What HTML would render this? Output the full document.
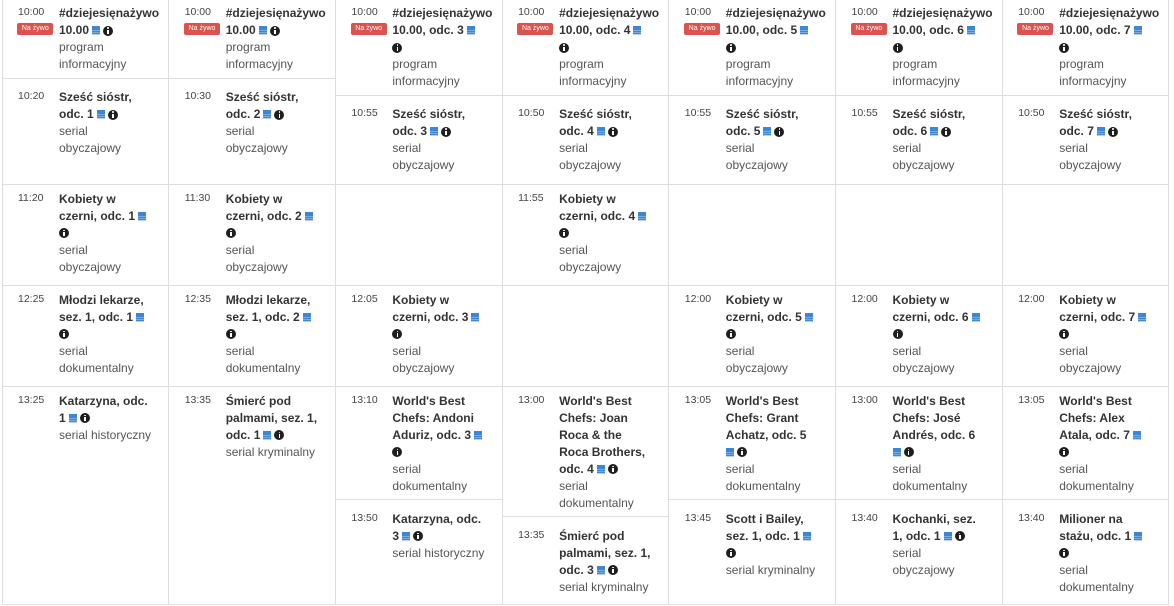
<!DOCTYPE html>
<html><head><meta charset="utf-8">
<style>
html,body{margin:0;padding:0;background:#fff;}
body{width:1174px;height:606px;position:relative;overflow:hidden;font-family:"Liberation Sans",Arial,sans-serif;}
.v{position:absolute;top:0;width:1px;height:605px;background:#ddd;}
.h{position:absolute;left:2px;width:1167px;height:1px;background:#ddd;}
.s{position:absolute;width:167px;height:1px;background:#ddd;}
.p{position:absolute;width:166px;}
.t{position:absolute;left:16px;top:-1px;font-size:10.5px;line-height:17px;color:#444;white-space:nowrap;}
.b{position:absolute;left:57px;top:0;white-space:nowrap;font-size:12px;line-height:17px;}
.n{font-weight:bold;color:#333;}
.d{color:#555;}
.bd{position:absolute;left:15.3px;top:17.6px;width:36px;height:12px;background:#d9534f;border-radius:2px;color:#fff;font-size:7px;line-height:12px;text-align:center;}
.cal{display:inline-block;width:8px;height:9px;margin-left:3px;vertical-align:-1px;background:linear-gradient(to bottom,#3b86d5 0,#3b86d5 2.4px,transparent 2.4px),repeating-linear-gradient(to bottom,#3b86d5 0,#3b86d5 1.6px,#b9d3ef 1.6px,#b9d3ef 2.2px);}
.inf{display:inline-block;width:10px;height:10px;border-radius:50%;background:#1e1e1e;position:relative;margin-left:3px;vertical-align:-1.5px;}
.inf::before{content:"";position:absolute;left:4.2px;top:1.7px;width:1.7px;height:1.7px;background:#fff;border-radius:50%;}
.inf::after{content:"";position:absolute;left:4.2px;top:4.1px;width:1.8px;height:4.2px;background:#fff;}
.f{margin-left:0;}
</style></head><body>

<!-- grid lines -->
<div class="v" style="left:2px"></div>
<div class="v" style="left:168px"></div>
<div class="v" style="left:335px"></div>
<div class="v" style="left:502px"></div>
<div class="v" style="left:668px"></div>
<div class="v" style="left:835px"></div>
<div class="v" style="left:1002px"></div>
<div class="v" style="left:1168px"></div>
<div class="h" style="top:184px"></div>
<div class="h" style="top:285px"></div>
<div class="h" style="top:386px"></div>
<div class="h" style="top:604px"></div>

<!-- ROW 1 -->
<div class="p" style="left:2px;top:5.3px"><div class="t">10:00</div><div class="bd">Na żywo</div><div class="b"><div class="n">#dziejesięnażywo<br>10.00<span class="cal"></span><span class="inf"></span></div><div class="d">program<br>informacyjny</div></div></div>
<div class="s" style="left:2px;top:78px"></div>
<div class="p" style="left:2px;top:89.3px"><div class="t">10:20</div><div class="b"><div class="n">Sześć sióstr,<br>odc. 1<span class="cal"></span><span class="inf"></span></div><div class="d">serial<br>obyczajowy</div></div></div>

<div class="p" style="left:168.7px;top:5.3px"><div class="t">10:00</div><div class="bd">Na żywo</div><div class="b"><div class="n">#dziejesięnażywo<br>10.00<span class="cal"></span><span class="inf"></span></div><div class="d">program<br>informacyjny</div></div></div>
<div class="s" style="left:168.7px;top:78px"></div>
<div class="p" style="left:168.7px;top:89.3px"><div class="t">10:30</div><div class="b"><div class="n">Sześć sióstr,<br>odc. 2<span class="cal"></span><span class="inf"></span></div><div class="d">serial<br>obyczajowy</div></div></div>

<div class="p" style="left:335.4px;top:5.3px"><div class="t">10:00</div><div class="bd">Na żywo</div><div class="b"><div class="n">#dziejesięnażywo<br>10.00, odc. 3<span class="cal"></span><br><span class="inf f"></span></div><div class="d">program<br>informacyjny</div></div></div>
<div class="s" style="left:335.4px;top:95px"></div>
<div class="p" style="left:335.4px;top:106.3px"><div class="t">10:55</div><div class="b"><div class="n">Sześć sióstr,<br>odc. 3<span class="cal"></span><span class="inf"></span></div><div class="d">serial<br>obyczajowy</div></div></div>

<div class="p" style="left:502.1px;top:5.3px"><div class="t">10:00</div><div class="bd">Na żywo</div><div class="b"><div class="n">#dziejesięnażywo<br>10.00, odc. 4<span class="cal"></span><br><span class="inf f"></span></div><div class="d">program<br>informacyjny</div></div></div>
<div class="s" style="left:502.1px;top:95px"></div>
<div class="p" style="left:502.1px;top:106.3px"><div class="t">10:50</div><div class="b"><div class="n">Sześć sióstr,<br>odc. 4<span class="cal"></span><span class="inf"></span></div><div class="d">serial<br>obyczajowy</div></div></div>

<div class="p" style="left:668.8px;top:5.3px"><div class="t">10:00</div><div class="bd">Na żywo</div><div class="b"><div class="n">#dziejesięnażywo<br>10.00, odc. 5<span class="cal"></span><br><span class="inf f"></span></div><div class="d">program<br>informacyjny</div></div></div>
<div class="s" style="left:668.8px;top:95px"></div>
<div class="p" style="left:668.8px;top:106.3px"><div class="t">10:55</div><div class="b"><div class="n">Sześć sióstr,<br>odc. 5<span class="cal"></span><span class="inf"></span></div><div class="d">serial<br>obyczajowy</div></div></div>

<div class="p" style="left:835.5px;top:5.3px"><div class="t">10:00</div><div class="bd">Na żywo</div><div class="b"><div class="n">#dziejesięnażywo<br>10.00, odc. 6<span class="cal"></span><br><span class="inf f"></span></div><div class="d">program<br>informacyjny</div></div></div>
<div class="s" style="left:835.5px;top:95px"></div>
<div class="p" style="left:835.5px;top:106.3px"><div class="t">10:55</div><div class="b"><div class="n">Sześć sióstr,<br>odc. 6<span class="cal"></span><span class="inf"></span></div><div class="d">serial<br>obyczajowy</div></div></div>

<div class="p" style="left:1002.2px;top:5.3px"><div class="t">10:00</div><div class="bd">Na żywo</div><div class="b"><div class="n">#dziejesięnażywo<br>10.00, odc. 7<span class="cal"></span><br><span class="inf f"></span></div><div class="d">program<br>informacyjny</div></div></div>
<div class="s" style="left:1002.2px;top:95px"></div>
<div class="p" style="left:1002.2px;top:106.3px"><div class="t">10:50</div><div class="b"><div class="n">Sześć sióstr,<br>odc. 7<span class="cal"></span><span class="inf"></span></div><div class="d">serial<br>obyczajowy</div></div></div>

<!-- ROW 2 -->
<div class="p" style="left:2px;top:190.5px"><div class="t">11:20</div><div class="b"><div class="n">Kobiety w<br>czerni, odc. 1<span class="cal"></span><br><span class="inf f"></span></div><div class="d">serial<br>obyczajowy</div></div></div>
<div class="p" style="left:168.7px;top:190.5px"><div class="t">11:30</div><div class="b"><div class="n">Kobiety w<br>czerni, odc. 2<span class="cal"></span><br><span class="inf f"></span></div><div class="d">serial<br>obyczajowy</div></div></div>
<div class="p" style="left:502.1px;top:190.5px"><div class="t">11:55</div><div class="b"><div class="n">Kobiety w<br>czerni, odc. 4<span class="cal"></span><br><span class="inf f"></span></div><div class="d">serial<br>obyczajowy</div></div></div>

<!-- ROW 3 -->
<div class="p" style="left:2px;top:291.5px"><div class="t">12:25</div><div class="b"><div class="n">Młodzi lekarze,<br>sez. 1, odc. 1<span class="cal"></span><br><span class="inf f"></span></div><div class="d">serial<br>dokumentalny</div></div></div>
<div class="p" style="left:168.7px;top:291.5px"><div class="t">12:35</div><div class="b"><div class="n">Młodzi lekarze,<br>sez. 1, odc. 2<span class="cal"></span><br><span class="inf f"></span></div><div class="d">serial<br>dokumentalny</div></div></div>
<div class="p" style="left:335.4px;top:291.5px"><div class="t">12:05</div><div class="b"><div class="n">Kobiety w<br>czerni, odc. 3<span class="cal"></span><br><span class="inf f"></span></div><div class="d">serial<br>obyczajowy</div></div></div>
<div class="p" style="left:668.8px;top:291.5px"><div class="t">12:00</div><div class="b"><div class="n">Kobiety w<br>czerni, odc. 5<span class="cal"></span><br><span class="inf f"></span></div><div class="d">serial<br>obyczajowy</div></div></div>
<div class="p" style="left:835.5px;top:291.5px"><div class="t">12:00</div><div class="b"><div class="n">Kobiety w<br>czerni, odc. 6<span class="cal"></span><br><span class="inf f"></span></div><div class="d">serial<br>obyczajowy</div></div></div>
<div class="p" style="left:1002.2px;top:291.5px"><div class="t">12:00</div><div class="b"><div class="n">Kobiety w<br>czerni, odc. 7<span class="cal"></span><br><span class="inf f"></span></div><div class="d">serial<br>obyczajowy</div></div></div>

<!-- ROW 4 -->
<div class="p" style="left:2px;top:392.5px"><div class="t">13:25</div><div class="b"><div class="n">Katarzyna, odc.<br>1<span class="cal"></span><span class="inf"></span></div><div class="d">serial historyczny</div></div></div>

<div class="p" style="left:168.7px;top:392.5px"><div class="t">13:35</div><div class="b"><div class="n">Śmierć pod<br>palmami, sez. 1,<br>odc. 1<span class="cal"></span><span class="inf"></span></div><div class="d">serial kryminalny</div></div></div>

<div class="p" style="left:335.4px;top:392.5px"><div class="t">13:10</div><div class="b"><div class="n">World's Best<br>Chefs: Andoni<br>Aduriz, odc. 3<span class="cal"></span><br><span class="inf f"></span></div><div class="d">serial<br>dokumentalny</div></div></div>
<div class="s" style="left:335.4px;top:499px"></div>
<div class="p" style="left:335.4px;top:510.5px"><div class="t">13:50</div><div class="b"><div class="n">Katarzyna, odc.<br>3<span class="cal"></span><span class="inf"></span></div><div class="d">serial historyczny</div></div></div>

<div class="p" style="left:502.1px;top:392.5px"><div class="t">13:00</div><div class="b"><div class="n">World's Best<br>Chefs: Joan<br>Roca &amp; the<br>Roca Brothers,<br>odc. 4<span class="cal"></span><span class="inf"></span></div><div class="d">serial<br>dokumentalny</div></div></div>
<div class="s" style="left:502.1px;top:516px"></div>
<div class="p" style="left:502.1px;top:527.5px"><div class="t">13:35</div><div class="b"><div class="n">Śmierć pod<br>palmami, sez. 1,<br>odc. 3<span class="cal"></span><span class="inf"></span></div><div class="d">serial kryminalny</div></div></div>

<div class="p" style="left:668.8px;top:392.5px"><div class="t">13:05</div><div class="b"><div class="n">World's Best<br>Chefs: Grant<br>Achatz, odc. 5<br><span class="cal f"></span><span class="inf"></span></div><div class="d">serial<br>dokumentalny</div></div></div>
<div class="s" style="left:668.8px;top:499px"></div>
<div class="p" style="left:668.8px;top:510.5px"><div class="t">13:45</div><div class="b"><div class="n">Scott i Bailey,<br>sez. 1, odc. 1<span class="cal"></span><br><span class="inf f"></span></div><div class="d">serial kryminalny</div></div></div>

<div class="p" style="left:835.5px;top:392.5px"><div class="t">13:00</div><div class="b"><div class="n">World's Best<br>Chefs: José<br>Andrés, odc. 6<br><span class="cal f"></span><span class="inf"></span></div><div class="d">serial<br>dokumentalny</div></div></div>
<div class="s" style="left:835.5px;top:499px"></div>
<div class="p" style="left:835.5px;top:510.5px"><div class="t">13:40</div><div class="b"><div class="n">Kochanki, sez.<br>1, odc. 1<span class="cal"></span><span class="inf"></span></div><div class="d">serial<br>obyczajowy</div></div></div>

<div class="p" style="left:1002.2px;top:392.5px"><div class="t">13:05</div><div class="b"><div class="n">World's Best<br>Chefs: Alex<br>Atala, odc. 7<span class="cal"></span><br><span class="inf f"></span></div><div class="d">serial<br>dokumentalny</div></div></div>
<div class="s" style="left:1002.2px;top:499px"></div>
<div class="p" style="left:1002.2px;top:510.5px"><div class="t">13:40</div><div class="b"><div class="n">Milioner na<br>stażu, odc. 1<span class="cal"></span><br><span class="inf f"></span></div><div class="d">serial<br>dokumentalny</div></div></div>

</body></html>
